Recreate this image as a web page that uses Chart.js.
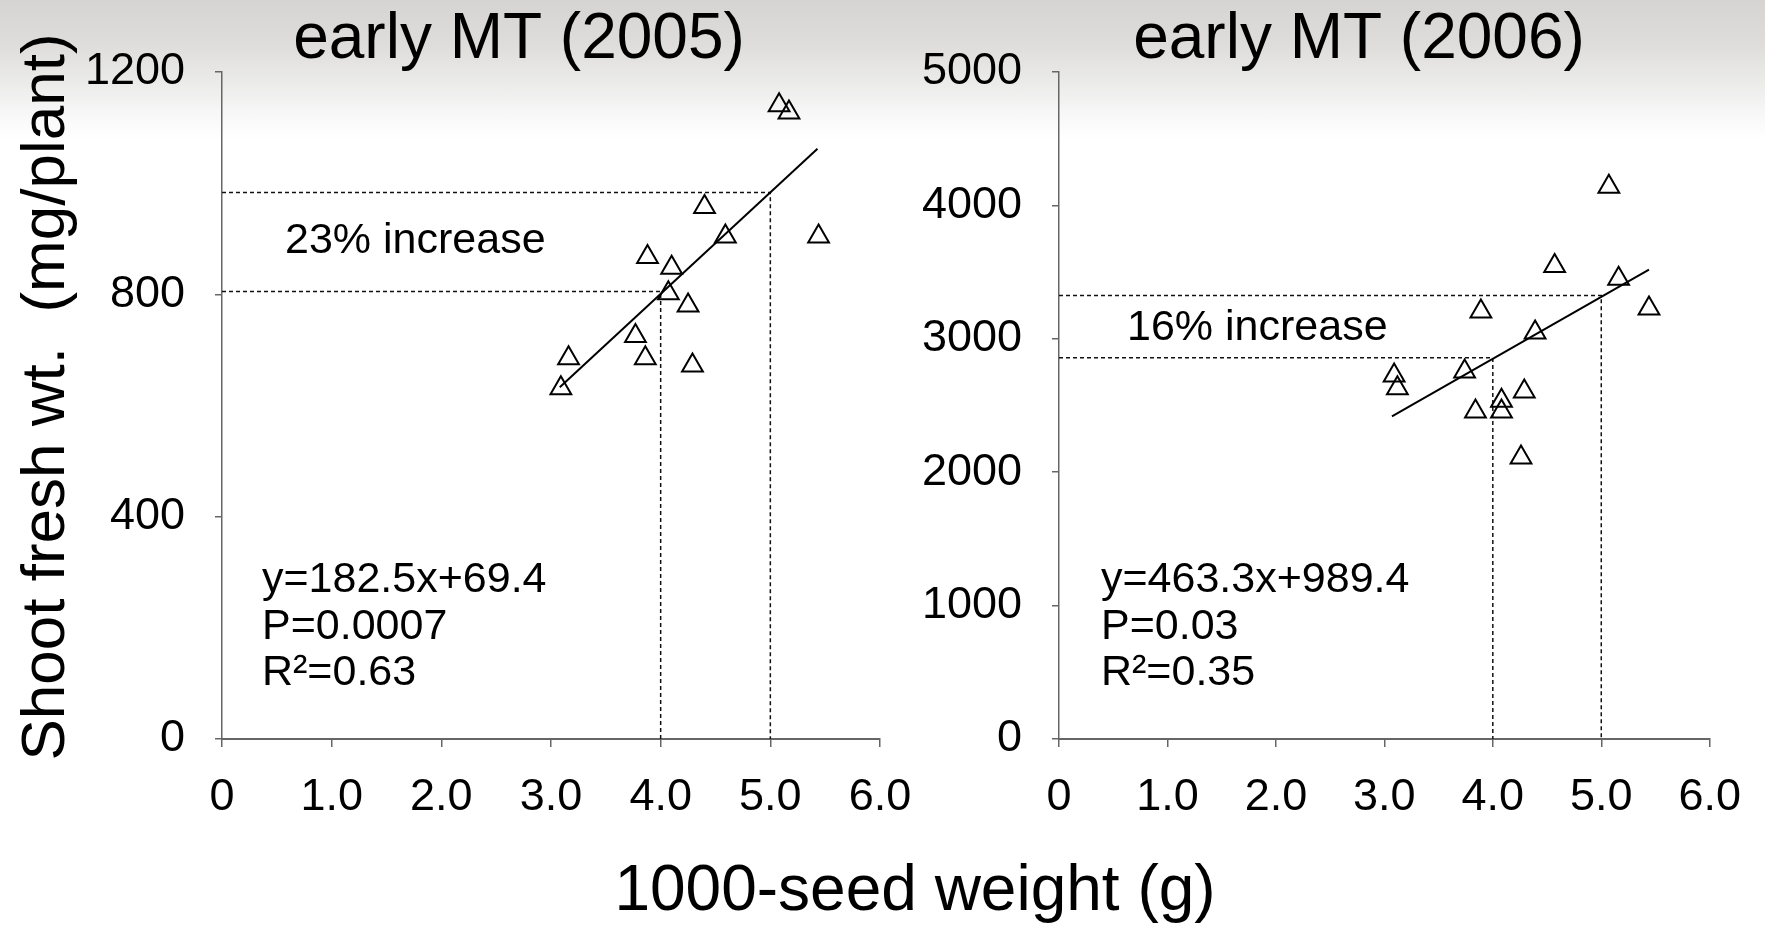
<!DOCTYPE html>
<html><head><meta charset="utf-8">
<script src="https://cdn.jsdelivr.net/npm/chart.js@4.4.1/dist/chart.umd.min.js"></script>
<style>
html,body{margin:0;padding:0;width:1765px;height:929px;overflow:hidden;background:#fff;}
#bg{position:absolute;left:0;top:0;width:1765px;height:929px;background:linear-gradient(to bottom,#d6d4d2 0px,#dedddb 45px,#ececeb 85px,#f8f8f8 115px,#ffffff 140px);}
.wrap{position:absolute;top:0;height:929px;}
#w1{left:0;width:1240px;}
#w2{left:900px;width:865px;}
canvas{display:block;}
</style></head><body>
<div id="bg"></div>
<div class="wrap" id="w1"><canvas id="c1" width="1240" height="929"></canvas></div>
<div class="wrap" id="w2"><canvas id="c2" width="865" height="929"></canvas></div>
<script>
// ---- data ----
const xTickLabels = ['0','1.0','2.0','3.0','4.0','5.0','6.0'];
const yTickLabels2005 = ['0','400','800','1200'];
const yTickLabels2006 = ['0','1000','2000','3000','4000','5000'];

const seed2005  = [3.09, 3.16, 3.77, 3.86, 3.88, 4.07, 4.10, 4.25, 4.29, 4.40, 4.59, 5.08, 5.17, 5.44];
const shoot2005 = [631, 685, 725, 685, 867, 802, 848, 780, 672, 957, 904, 1140, 1127, 904];
const trendX2005 = [3.08, 5.43];
const trendY2005 = [633, 1062];
const guideLowX2005 = [0, 4, 4];
const guideLowY2005 = [805, 805, 0];
const guideHighX2005 = [0, 5, 5];
const guideHighY2005 = [983, 983, 0];

const seed2006  = [3.09, 3.12, 3.74, 3.84, 3.89, 4.08, 4.08, 4.26, 4.29, 4.39, 4.57, 5.07, 5.16, 5.44];
const shoot2006 = [2725, 2630, 2755, 2455, 3205, 2535, 2455, 2110, 2605, 3048, 3545, 4140, 3450, 3228];
const trendX2006 = [3.07, 5.44];
const trendY2006 = [2418, 3518];
const guideLowX2006 = [0, 4, 4];
const guideLowY2006 = [2858, 2858, 0];
const guideHighX2006 = [0, 5, 5];
const guideHighY2006 = [3325, 3325, 0];

// ---- helpers ----
const FONT = "'Liberation Sans', Arial, sans-serif";
const pts = (xs, ys) => xs.map((x, i) => ({x: x, y: ys[i]}));

const textPlugin = {
  id: 'texts',
  afterDraw(chart, args, opts) {
    const ctx = chart.ctx, a = chart.chartArea;
    (opts.items || []).forEach(it => {
      ctx.save();
      ctx.font = it.size + 'px ' + FONT;
      ctx.fillStyle = '#000';
      ctx.textAlign = it.align || 'left';
      ctx.textBaseline = it.baseline || 'alphabetic';
      const x = (it.abs ? 0 : a.left) + it.dx;
      ctx.translate(x, it.y);
      if (it.rotate) ctx.rotate(it.rotate);
      ctx.fillText(it.text, 0, 0);
      ctx.restore();
    });
  }
};

function xScale() {
  return {
    type: 'linear', min: 0, max: 6,
    ticks: {stepSize: 1, autoSkip: false, maxRotation: 0, padding: 24, color: '#000',
      font: {family: FONT, size: 45}, callback: (v, i) => xTickLabels[i]},
    grid: {drawOnChartArea: false, drawTicks: true, tickLength: 8, color: '#666', lineWidth: 1.5},
    border: {display: true, color: '#666', width: 2},
    afterFit(s) { s.height = 100; }
  };
}
function yScale(max, step, labels) {
  return {
    type: 'linear', min: 0, max: max,
    ticks: {stepSize: step, autoSkip: false, padding: 30, color: '#000',
      font: {family: FONT, size: 45}, callback: (v, i) => labels[i]},
    grid: {drawOnChartArea: false, drawTicks: true, tickLength: 7, color: '#666', lineWidth: 1.5},
    border: {display: true, color: '#666', width: 1.5},
    afterFit(s) { s.width = 150; }
  };
}
function datasets(sx, sy, tx, ty, glx, gly, ghx, ghy) {
  return [
    {type: 'scatter', data: pts(sx, sy), pointStyle: 'triangle', pointRadius: 12,
     borderColor: '#000', backgroundColor: 'rgba(0,0,0,0)', borderWidth: 2, clip: false},
    {type: 'line', data: pts(tx, ty), borderColor: '#000', borderWidth: 2, pointRadius: 0, fill: false, clip: false},
    {type: 'line', data: pts(glx, gly), borderColor: '#111', borderWidth: 1.5, borderDash: [4, 3], pointRadius: 0, fill: false, clip: false},
    {type: 'line', data: pts(ghx, ghy), borderColor: '#111', borderWidth: 1.5, borderDash: [4, 3], pointRadius: 0, fill: false, clip: false}
  ];
}
function baseOptions(padding, ymax, ystep, ylabels, items) {
  return {
    responsive: false, animation: false, devicePixelRatio: 1, events: [],
    layout: {padding: padding},
    plugins: {legend: {display: false}, tooltip: {enabled: false}, texts: {items: items}},
    scales: {x: xScale(), y: yScale(ymax, ystep, ylabels)}
  };
}

new Chart(document.getElementById('c1'), {
  type: 'scatter',
  data: {datasets: datasets(seed2005, shoot2005, trendX2005, trendY2005, guideLowX2005, guideLowY2005, guideHighX2005, guideHighY2005)},
  options: baseOptions({left: 72, right: 360, top: 72, bottom: 90}, 1200, 400, yTickLabels2005, [
    {text: 'early MT (2005)', size: 64, dx: 297, y: 58, align: 'center'},
    {text: '23% increase', size: 43, dx: 63, y: 241, baseline: 'middle'},
    {text: 'y=182.5x+69.4', size: 43, dx: 40, y: 580, baseline: 'middle'},
    {text: 'P=0.0007', size: 43, dx: 40, y: 627, baseline: 'middle'},
    {text: 'R\u00B2=0.63', size: 43, dx: 40, y: 673, baseline: 'middle'},
    {text: 'Shoot fresh wt.  (mg/plant)', size: 62, abs: true, dx: 64, y: 397, align: 'center', rotate: -Math.PI / 2},
    {text: '1000-seed weight (g)', size: 64, abs: true, dx: 915, y: 910, align: 'center'}
  ]),
  plugins: [textPlugin]
});

new Chart(document.getElementById('c2'), {
  type: 'scatter',
  data: {datasets: datasets(seed2006, shoot2006, trendX2006, trendY2006, guideLowX2006, guideLowY2006, guideHighX2006, guideHighY2006)},
  options: baseOptions({left: 9, right: 45, top: 72, bottom: 90}, 5000, 1000, yTickLabels2006, [
    {text: 'early MT (2006)', size: 64, dx: 300, y: 58, align: 'center'},
    {text: '16% increase', size: 43, dx: 68, y: 328, baseline: 'middle'},
    {text: 'y=463.3x+989.4', size: 43, dx: 42, y: 580, baseline: 'middle'},
    {text: 'P=0.03', size: 43, dx: 42, y: 627, baseline: 'middle'},
    {text: 'R\u00B2=0.35', size: 43, dx: 42, y: 673, baseline: 'middle'}
  ]),
  plugins: [textPlugin]
});
</script>
</body></html>
